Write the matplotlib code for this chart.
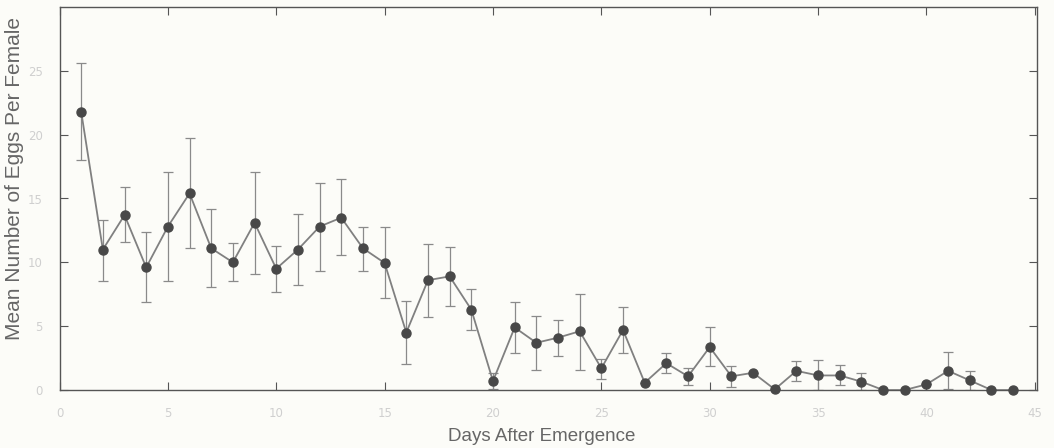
import matplotlib
matplotlib.use("Agg")
import matplotlib.pyplot as plt

days = list(range(1, 45))
means = [21.8, 11.0, 13.7, 9.6, 12.8, 15.4, 11.1, 10.0, 13.1, 9.5,
         11.0, 12.8, 13.5, 11.1, 9.95, 4.5, 8.6, 8.9, 6.3, 0.7,
         4.9, 3.7, 4.1, 4.6, 1.7, 4.7, 0.57, 2.1, 1.07, 3.36,
         1.07, 1.35, 0.05, 1.5, 1.14, 1.14, 0.65, 0.0, 0.0, 0.44,
         1.5, 0.75, 0.0, 0.0]
upper = [25.6, 13.3, 15.9, 12.4, 17.1, 19.7, 14.2, 11.5, 17.1, 11.25,
         13.8, 16.2, 16.5, 12.8, 12.8, 7.0, 11.45, 11.2, 7.9, 1.3,
         6.9, 5.8, 5.5, 7.55, 2.4, 6.5, 0.57, 2.9, 1.74, 4.9,
         1.9, 1.35, 0.05, 2.27, 2.34, 1.93, 1.35, 0.0, 0.0, 0.44,
         2.94, 1.5, 0.0, 0.0]
lower = [18.0, 8.5, 11.6, 6.9, 8.5, 11.1, 8.1, 8.5, 9.1, 7.7,
         8.2, 9.3, 10.6, 9.3, 7.2, 2.0, 5.7, 6.6, 4.7, 0.1,
         2.9, 1.6, 2.7, 1.6, 0.86, 2.9, 0.57, 1.3, 0.4, 1.9,
         0.26, 1.35, 0.05, 0.73, 0.0, 0.36, 0.0, 0.0, 0.0, 0.44,
         0.1, 0.0, 0.0, 0.0]
xticks = [0, 5, 10, 15, 20, 25, 30, 35, 40, 45]
yticks = [0, 5, 10, 15, 20, 25]
xlabel = "Days After Emergence"
ylabel = "Mean Number of Eggs Per Female"

W, H = 1054, 448
bg = "#fcfcf8"
fig = plt.figure(figsize=(W / 100, H / 100), dpi=100, facecolor=bg)
ax = fig.add_axes([59.5 / W, (H - 390) / H, (1037 - 59.5) / W, (390 - 7) / H])
ax.set_facecolor(bg)

yerr = [[m - lo for m, lo in zip(means, lower)], [up - m for m, up in zip(means, upper)]]
ax.errorbar(days, means, yerr=yerr, fmt="none", ecolor="#8a8a8a",
            elinewidth=0.9, capsize=3.5, capthick=0.9, zorder=2)
ax.plot(days, means, "-", color="#808080", lw=1.3, zorder=3)
ax.plot(days, means, "o", color="#484848", markersize=6.5, zorder=4,
        clip_on=False)

ax.set_xlim(0, 45.1)
ax.set_ylim(0, 30)
ax.set_xticks(xticks)
ax.set_yticks(yticks)
ax.set_xticklabels([str(t) for t in xticks])
ax.set_yticklabels([str(t) for t in yticks])
ax.tick_params(direction="in", length=6, width=0.8, color="#555555",
               top=True, right=True, labelsize=8.5, labelcolor="#cfcfcf",
               pad=12)
for s in ax.spines.values():
    s.set_color("#555555")
    s.set_linewidth(1.0)

fig.text(542 / W, (H - 436) / H, xlabel, ha="center", va="center",
         fontsize=13.5, color="#666666", family="Liberation Sans")
fig.text(15 / W, (H - 178) / H, ylabel, ha="center", va="center",
         rotation=90, fontsize=15, color="#666666", family="Liberation Sans")

fig.savefig("out.png", dpi=100, facecolor=bg)
